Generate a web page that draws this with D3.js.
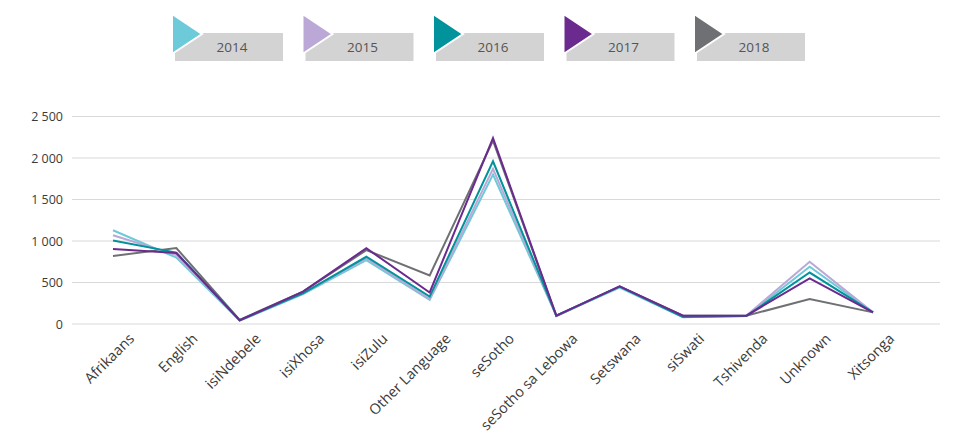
<!DOCTYPE html>
<html>
<head>
<meta charset="utf-8">
<script src="https://cdn.jsdelivr.net/npm/d3@7"></script>
<style>
  html, body { margin: 0; padding: 0; background: #fff; }
  svg { display: block; font-family: "Open Sans", "Noto Sans", sans-serif; }
</style>
</head>
<body>
<svg id="chart" width="962" height="444"></svg>
<script>
// Home language counts by year
const categories = ["Afrikaans", "English", "isiNdebele", "isiXhosa", "isiZulu", "Other Language",
  "seSotho", "seSotho sa Lebowa", "Setswana", "siSwati", "Tshivenda", "Unknown", "Xitsonga"];
const years = ["2014", "2015", "2016", "2017", "2018"];
const values2014 = [1130, 800, 40, 360, 770, 290, 1800, 100, 440, 80, 95, 690, 140];
const values2015 = [1070, 830, 40, 370, 790, 300, 1870, 100, 450, 90, 100, 750, 140];
const values2016 = [1005, 860, 45, 370, 810, 330, 1960, 100, 450, 85, 95, 620, 140];
const values2017 = [905, 855, 45, 390, 913, 380, 2240, 100, 455, 100, 100, 550, 140];
const values2018 = [820, 915, 50, 390, 890, 585, 2210, 95, 450, 100, 100, 300, 140];
const yTicks = [0, 500, 1000, 1500, 2000, 2500];
const colors = ["#6ccad9", "#bba8d6", "#00939c", "#6a2a8e", "#6f7073"];

const series = [values2014, values2015, values2016, values2017, values2018]
  .map((v, i) => ({ year: years[i], color: colors[i], values: v }));

const svg = d3.select("#chart");
const gridLeft = 72, gridRight = 940;

const x = d3.scalePoint().domain(categories).range([113, 873]);
const y = d3.scaleLinear().domain([0, 2500]).range([324, 116.5]);

const fmt = d => d3.format(",")(d).replace(/,/g, " ");

// horizontal grid lines
svg.append("g")
  .selectAll("line")
  .data(yTicks)
  .join("line")
  .attr("x1", gridLeft).attr("x2", gridRight)
  .attr("y1", d => y(d)).attr("y2", d => y(d))
  .attr("stroke", "#d9d9d9").attr("stroke-width", 1.2);

// y axis labels
const yAxis = svg.append("g")
  .attr("transform", `translate(${gridLeft - 9},0)`)
  .call(d3.axisLeft(y).tickValues(yTicks).tickFormat(fmt).tickSize(0).tickPadding(0));
yAxis.select(".domain").remove();
yAxis.selectAll("text").attr("font-size", 12.5).attr("fill", "#3a3a3a")
  .attr("font-family", "'Open Sans', sans-serif");

// x axis labels, rotated
const xAxis = svg.append("g")
  .attr("transform", `translate(0,${y(0) + 8})`)
  .call(d3.axisBottom(x).tickSize(0).tickPadding(0));
xAxis.select(".domain").remove();
xAxis.selectAll("text")
  .attr("font-size", 14.5).attr("fill", "#3a3a3a")
  .attr("font-family", "'Open Sans', sans-serif")
  .attr("text-anchor", "end")
  .attr("dy", "0.35em")
  .attr("transform", "translate(18,4) rotate(-45)");

// series lines
const line = d3.line()
  .x((d, i) => x(categories[i]))
  .y(d => y(d));

const drawOrder = [4, 0, 1, 2, 3];
svg.append("g")
  .selectAll("path")
  .data(drawOrder.map(i => series[i]))
  .join("path")
  .attr("d", d => line(d.values))
  .attr("fill", "none")
  .attr("stroke", d => d.color)
  .attr("stroke-width", 2)
  .attr("stroke-linejoin", "miter");

// legend
const legend = svg.append("g")
  .selectAll("g")
  .data(series)
  .join("g")
  .attr("transform", (d, i) => `translate(${175 + i * 130.5},0)`);

legend.append("rect")
  .attr("x", 0).attr("y", 33).attr("width", 108).attr("height", 28)
  .attr("fill", "#d3d3d3");

legend.append("path")
  .attr("d", "M-3,14 L27,34 L-3,54 Z")
  .attr("fill", d => d.color)
  .attr("stroke", "#fff").attr("stroke-width", 2)
  .attr("stroke-linejoin", "miter");

legend.append("text")
  .attr("x", 57).attr("y", 47)
  .attr("dy", "0.35em")
  .attr("text-anchor", "middle")
  .attr("font-size", 13.5)
  .attr("fill", "#555")
  .attr("font-family", "'Open Sans', sans-serif")
  .text(d => d.year);
</script>
</body>
</html>
